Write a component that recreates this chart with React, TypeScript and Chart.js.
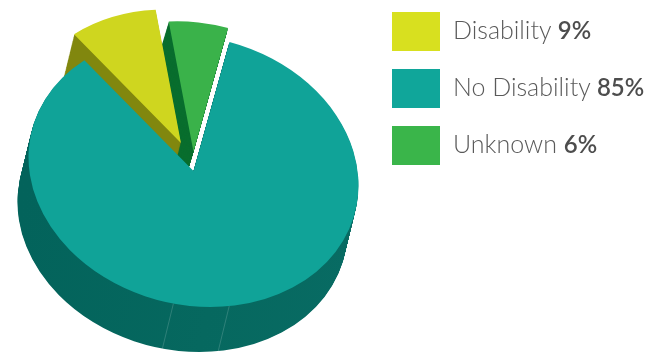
import React, { useEffect, useRef } from "react";
import { Chart, registerables } from "chart.js";

Chart.register(...registerables);

const categories = ["Disability", "No Disability", "Unknown"];
const shares = [9, 85, 6];
const topColors = ["#cfd61f", "#10a398", "#3ab24a"];
const sideColors = ["#81870e", "#07685f", "#096e2e"];
const swatchColors = ["#d8e01f", "#10a69a", "#3ab54a"];
// How far each slice is pulled out of the pie (x, y), as fractions of the radius
const pullOut = [
  [0.076, -0.2],
  [0, 0],
  [0.0, -0.142],
];
// Slices pulled out of the pie are drawn slightly smaller than the main body
const sliceScale = [0.98, 1, 0.96];
// Back slices first so the large slice sits on top of their sides
const paintOrder = [2, 0, 1];
// Where the side wall of the large slice shows its seams, degrees either side of due south
const seamAngles = [-7, 12.5];
// Sideways lean of each slice's wall; the small slice leans along its own right edge
const wallLean = [-11, -11, -13.5];

const PIE_RADIUS = 150;
const RIM_X = 165;
const RIM_Y = 136;
const RIM_SHEAR = 14;
const PIE_CENTER = { x: 193.5, y: 171 };
const WALL_DEPTH = 45;
const WALL_STEPS = 48;

const tiltedPie = {
  id: "tiltedPie",
  beforeDatasetDraw(chart: any) {
    const ctx: CanvasRenderingContext2D = chart.ctx;
    const arcs: any[] = chart.getDatasetMeta(0).data;
    const cx = chart.width / 2;
    const cy = chart.height / 2;
    const sx = RIM_X / PIE_RADIUS;
    const syx = RIM_SHEAR / PIE_RADIUS;
    const sy = Math.sqrt(RIM_Y * RIM_Y - RIM_SHEAR * RIM_SHEAR) / PIE_RADIUS;

    // The pie is laid out mirrored so the slices run anticlockwise in series order
    const place = (dx: number, dy: number) => {
      ctx.translate(PIE_CENTER.x + dx, PIE_CENTER.y + dy);
      ctx.transform(-sx, -syx, 0, sy, 0, 0);
    };

    const paintArc = (index: number, dx: number, dy: number, fill?: any) => {
      const arc = arcs[index];
      const saved = arc.options;
      if (fill) arc.options = { ...saved, backgroundColor: fill };
      ctx.save();
      place(dx, dy);
      ctx.translate(pullOut[index][0] * PIE_RADIUS, pullOut[index][1] * PIE_RADIUS);
      ctx.scale(sliceScale[index], sliceScale[index]);
      ctx.translate(-cx, -cy);
      arc.draw(ctx);
      ctx.restore();
      arc.options = saved;
    };

    for (const index of paintOrder) {
      let fill: any = sideColors[index];
      if (index === 1) {
        const shade = ctx.createLinearGradient(cx + PIE_RADIUS, 0, cx - PIE_RADIUS, 0);
        shade.addColorStop(0, "#03635b");
        shade.addColorStop(0.55, "#06685f");
        shade.addColorStop(1, "#086b63");
        fill = shade;
      }
      for (let step = WALL_STEPS; step >= 1; step--) {
        const t = step / WALL_STEPS;
        paintArc(index, wallLean[index] * t, WALL_DEPTH * t, fill);
      }
      if (index === 1) {
        ctx.save();
        ctx.strokeStyle = "rgba(255,255,255,0.16)";
        ctx.lineWidth = 1;
        for (const deg of seamAngles) {
          const rad = (deg * Math.PI) / 180;
          const u = Math.sin(rad);
          const v = Math.cos(rad);
          const x = PIE_CENTER.x + RIM_X * u;
          const y = PIE_CENTER.y + RIM_SHEAR * u + sy * PIE_RADIUS * v;
          ctx.beginPath();
          ctx.moveTo(x, y);
          ctx.lineTo(x + wallLean[index], y + WALL_DEPTH);
          ctx.stroke();
        }
        ctx.restore();
      }
      paintArc(index, 0, 0);
    }
    return false;
  },
};

export default function App() {
  const canvasRef = useRef<HTMLCanvasElement>(null);

  useEffect(() => {
    const chart = new Chart(canvasRef.current as HTMLCanvasElement, {
      type: "pie",
      data: {
        labels: categories,
        datasets: [
          {
            data: shares,
            backgroundColor: topColors,
            borderWidth: 0,
          },
        ],
      },
      options: {
        responsive: false,
        animation: false,
        rotation: 9,
        radius: PIE_RADIUS,
        plugins: { legend: { display: false }, tooltip: { enabled: false } },
      } as any,
      plugins: [tiltedPie],
    });
    return () => chart.destroy();
  }, []);

  return (
    <div style={{ position: "absolute", left: 0, top: 0, width: 648, height: 353, background: "#fff", overflow: "hidden" }}>
      <canvas ref={canvasRef} width={648} height={353} style={{ display: "block" }} />
      {categories.map((name, i) => (
        <div key={name}>
          <div
            style={{
              position: "absolute",
              left: 392,
              top: 12 + i * 57,
              width: 48,
              height: 39,
              background: swatchColors[i],
            }}
          />
          <div
            style={{
              position: "absolute",
              left: 453,
              top: 11 + i * 57,
              height: 36,
              lineHeight: "36px",
              whiteSpace: "nowrap",
              fontFamily: "Lato, sans-serif",
              fontSize: 25,
              fontWeight: 300,
              color: "#5a5a5a",
            }}
          >
            {name} <span style={{ fontSize: 24, fontWeight: 600, color: "#4d4d4d" }}>{shares[i]}%</span>
          </div>
        </div>
      ))}
    </div>
  );
}
